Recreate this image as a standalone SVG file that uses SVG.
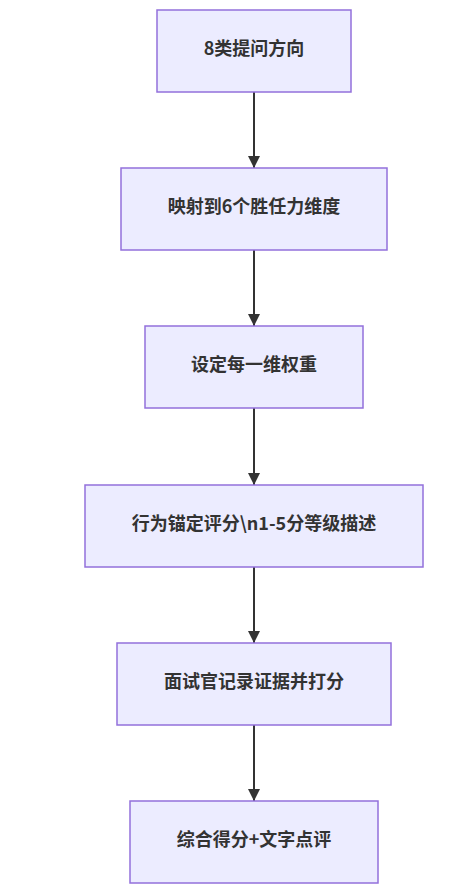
<svg xmlns="http://www.w3.org/2000/svg" width="463" height="889" viewBox="0 0 463 889">
<style>
.node rect{fill:#ECECFF;stroke:#9370DB;stroke-width:1.5}
.node text{font-family:"Noto Sans CJK SC","Liberation Sans",sans-serif;font-size:18px;font-weight:bold;fill:#333;text-anchor:middle;dominant-baseline:central}
.edge{stroke:#333;stroke-width:2;fill:none;marker-end:url(#arrow)}
</style>
<defs>
<marker id="arrow" viewBox="0 0 10 10" refX="10" refY="5" markerWidth="6" markerHeight="6" markerUnits="strokeWidth" orient="auto">
<path d="M0,0 L10,5 L0,10 z" fill="#333"/>
</marker>
</defs>
<rect width="463" height="889" fill="#fff"/>
<g id="edges">
<path class="edge" d="M254,92 V168"/>
<path class="edge" d="M254,250 V326"/>
<path class="edge" d="M254,408 V485"/>
<path class="edge" d="M254,567 V643"/>
<path class="edge" d="M254,725 V801"/>
</g>
<g id="n1" class="node"><rect x="157" y="10" width="194" height="82"/><text x="254" y="47">8类提问方向</text></g>
<g id="n2" class="node"><rect x="121" y="168" width="266" height="82"/><text x="254" y="205">映射到6个胜任力维度</text></g>
<g id="n3" class="node"><rect x="145" y="326" width="218" height="82"/><text x="254" y="363">设定每一维权重</text></g>
<g id="n4" class="node"><rect x="85" y="485" width="338" height="82"/><text x="254" y="522">行为锚定评分\n1-5分等级描述</text></g>
<g id="n5" class="node"><rect x="117" y="643" width="274" height="82"/><text x="254" y="680">面试官记录证据并打分</text></g>
<g id="n6" class="node"><rect x="130" y="801" width="248" height="82"/><text x="254" y="838">综合得分+文字点评</text></g>
</svg>
